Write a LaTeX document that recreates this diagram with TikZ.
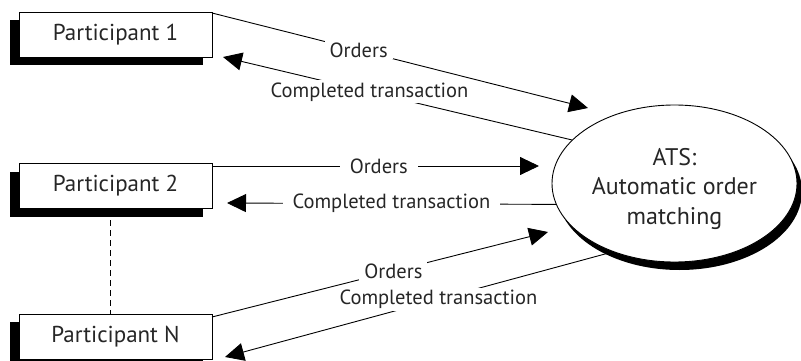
\documentclass[tikz,border=0pt]{standalone}
\usepackage{fontspec}
\setmainfont{PT Sans}
\usetikzlibrary{arrows.meta,shapes.geometric,shadows}

\begin{document}
\begin{tikzpicture}[x=1pt,y=-1pt,
  ink/.style={text=black!85},
  partbox/.style={ink, font=\fontsize{23}{27}\selectfont, draw, line width=0.9pt, fill=white,
    minimum width=193pt, minimum height=45pt, inner sep=0pt,
    drop shadow={shadow xshift=-9pt, shadow yshift=-8pt, fill=black, opacity=1}},
  hub/.style={ellipse, draw, line width=0.9pt, fill=white,
    minimum width=245pt, minimum height=157pt, inner sep=0pt,
    drop shadow={shadow xshift=5pt, shadow yshift=-8pt, fill=black, opacity=1}},
  hubtext/.style={ink, font=\fontsize{24}{29.5}\selectfont, align=center, anchor=base},
  flow/.style={line width=0.9pt, -{Triangle[length=19pt,width=18pt]}},
  onflow/.style={ink, font=\fontsize{20.5}{24}\selectfont, fill=white, inner xsep=5pt, inner ysep=2pt},
  onflowwide/.style={onflow, inner xsep=10pt},
  divider/.style={line width=0.8pt, dash pattern=on 6pt off 4pt}
]
\useasboundingbox (0,0) rectangle (801,361);

% link between participant 2 and participant N
\coordinate (dtop) at (110,210);
\coordinate (dbot) at (110,314);
\draw[divider] (dtop) -- (dbot);

% participants
\node[partbox] (p1) at (115.5,34.5) {Participant 1};
\node[partbox] (p2) at (115.5,186) {Participant 2};
\node[partbox] (pn) at (115.5,336.5) {Participant N};

% trading system (base anchor sits on the last line's baseline)
\node[hub] (ats) at (674.5,183.5) {};
\node[hubtext] (atstext) at (674.5,224) {ATS:\\Automatic order\\matching};

% arrow tips that stop short of their targets
\coordinate (t1o) at (588,108);
\coordinate (t1c) at (223,57);
\coordinate (t2o) at (539,166);
\coordinate (t2c) at (227,203);
\coordinate (tno) at (548,232);
\coordinate (tnc) at (225,357);
\coordinate (s1o) at (212,13);
\coordinate (s2o) at (212,166);
\coordinate (sno) at (212,317);

% flows
\draw[flow] (s1o) -- node[onflow, pos=0.39] {Orders} (t1o);
\draw[flow] (ats.157) -- node[onflow, pos=0.58] {Completed transaction} (t1c);
\draw[flow] (s2o) -- node[onflowwide, pos=0.51] {Orders} (t2o);
\draw[flow] (ats.190) -- node[onflowwide, pos=0.50] {Completed transaction} (t2c);
\draw[flow] (sno) -- node[onflow, pos=0.54] {Orders} (tno);
\draw[flow] (ats.228) -- node[onflow, pos=0.45] {Completed transaction} (tnc);
\end{tikzpicture}
\end{document}
